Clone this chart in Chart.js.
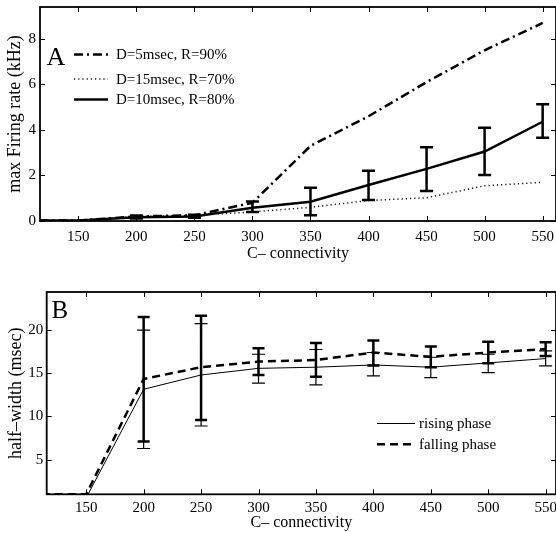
<!DOCTYPE html>
<html>
<head>
<meta charset="utf-8">
<script src="https://cdn.jsdelivr.net/npm/chart.js@4"></script>
<style>
  html, body { margin: 0; padding: 0; background: #fff; }
  canvas { position: absolute; left: 0; }
  #chartA { top: 0; }
  #chartB { top: 268px; }
</style>
</head>
<body>
<canvas id="chartA" width="556" height="265"></canvas>
<canvas id="chartB" width="556" height="265"></canvas>
<script>
const connectivity = [100, 150, 200, 250, 300, 350, 400, 450, 500, 550];
const xTicks = [150, 200, 250, 300, 350, 400, 450, 500, 550];

// panel A: max firing rate (kHz)
const rateD5 = [0.02, 0.02, 0.2, 0.25, 0.8, 3.3, 4.6, 6.1, 7.5, 8.7];
const rateD15 = [0.02, 0.02, 0.2, 0.25, 0.4, 0.6, 0.9, 1.02, 1.55, 1.7];
const rateD10 = [0.02, 0.02, 0.17, 0.2, 0.58, 0.85, 1.58, 2.29, 3.05, 4.36];
const rateD10Low = [null, null, 0.11, 0.14, 0.4, 0.25, 0.92, 1.32, 2.02, 3.66];
const rateD10High = [null, null, 0.24, 0.27, 0.86, 1.46, 2.21, 3.24, 4.1, 5.13];
const yTicksA = [0, 2, 4, 6, 8];

// panel B: half-width (msec)
const rising = [1, 0.6, 13.15, 14.8, 15.57, 15.7, 15.96, 15.7, 16.2, 16.7];
const risingLow = [null, null, 6.3, 8.9, 13.85, 13.65, 14.7, 14.5, 15.07, 15.85];
const risingHigh = [null, null, 20.0, 20.75, 17.2, 17.75, 17.4, 16.85, 17.2, 17.6];
const falling = [1, 1, 14.34, 15.7, 16.35, 16.53, 17.4, 16.9, 17.4, 17.8];
const fallingLow = [null, null, 7.1, 9.6, 14.8, 14.6, 15.9, 15.7, 16.15, 17.0];
const fallingHigh = [null, null, 21.5, 21.65, 17.9, 18.5, 18.8, 18.1, 18.65, 18.6];
const yTicksB = [5, 10, 15, 20];

const serif = "'Liberation Serif', 'Times New Roman', serif";

function points(values) {
  return connectivity.map((x, i) => ({ x, y: values[i] }));
}

// box around the plot with inward tick marks on all four sides
const framePlugin = {
  id: 'frame',
  afterDraw(chart, args, opts) {
    const { ctx, chartArea: a, scales } = chart;
    ctx.save();
    ctx.strokeStyle = '#000';
    ctx.lineWidth = 1.8;
    ctx.strokeRect(a.left, a.top, a.right - a.left, a.bottom - a.top);
    ctx.lineWidth = 1;
    ctx.beginPath();
    opts.xTicks.forEach((v) => {
      const px = Math.round(scales.x.getPixelForValue(v)) + 0.5;
      ctx.moveTo(px, a.bottom); ctx.lineTo(px, a.bottom - 5);
      ctx.moveTo(px, a.top); ctx.lineTo(px, a.top + 5);
    });
    opts.yTicks.forEach((v) => {
      const py = Math.round(scales.y.getPixelForValue(v)) + 0.5;
      ctx.moveTo(a.left, py); ctx.lineTo(a.left + 5, py);
      ctx.moveTo(a.right, py); ctx.lineTo(a.right - 5, py);
    });
    ctx.stroke();
    ctx.restore();
  }
};

const errorBarPlugin = {
  id: 'errorBars',
  afterDatasetsDraw(chart, args, opts) {
    const { ctx, scales } = chart;
    ctx.save();
    ctx.strokeStyle = '#000';
    (opts.bars || []).forEach((bar) => {
      ctx.lineWidth = bar.width;
      ctx.beginPath();
      connectivity.forEach((x, i) => {
        if (bar.low[i] == null) return;
        const px = scales.x.getPixelForValue(x);
        const lo = scales.y.getPixelForValue(bar.low[i]);
        const hi = scales.y.getPixelForValue(bar.high[i]);
        ctx.moveTo(px, lo); ctx.lineTo(px, hi);
        ctx.moveTo(px - bar.cap, lo); ctx.lineTo(px + bar.cap, lo);
        ctx.moveTo(px - bar.cap, hi); ctx.lineTo(px + bar.cap, hi);
      });
      ctx.stroke();
    });
    ctx.restore();
  }
};

// legend drawn inside the axes, plus the panel letter
const insideLegend = {
  id: 'insideLegend',
  afterDraw(chart, args, opts) {
    const { ctx } = chart;
    ctx.save();
    ctx.fillStyle = '#000';
    ctx.font = opts.letterSize + 'px ' + serif;
    ctx.textBaseline = 'alphabetic';
    ctx.fillText(opts.letter, opts.letterX, opts.letterY);
    ctx.font = '15px ' + serif;
    ctx.textBaseline = 'middle';
    opts.rows.forEach((row) => {
      const ds = chart.data.datasets[row.index];
      ctx.strokeStyle = ds.borderColor;
      ctx.lineWidth = ds.borderWidth;
      ctx.setLineDash(ds.borderDash || []);
      ctx.beginPath();
      ctx.moveTo(opts.x0, row.y); ctx.lineTo(opts.x1, row.y);
      ctx.stroke();
      ctx.fillText(ds.label, opts.textX, row.y + 1);
    });
    ctx.restore();
  }
};

function noPadding(s) {
  s.paddingLeft = 0; s.paddingRight = 0; s.paddingTop = 0; s.paddingBottom = 0;
}

function xScale(min, max, pad, height, titlePad) {
  return {
    type: 'linear', min, max,
    border: { display: false },
    grid: { display: false, drawTicks: false },
    ticks: { padding: pad, color: '#000', font: { family: serif, size: 15 }, maxRotation: 0, autoSkip: false },
    afterBuildTicks: (s) => { s.ticks = xTicks.map((v) => ({ value: v })); },
    title: { display: true, text: 'C\u2013 connectivity', color: '#000', font: { family: serif, size: 16 }, padding: { top: 0, bottom: titlePad } },
    afterFit: (s) => { s.height = height; noPadding(s); }
  };
}

function yScale(min, max, ticks, label, pad, width, titlePad) {
  return {
    type: 'linear', min, max,
    border: { display: false },
    grid: { display: false, drawTicks: false },
    ticks: { padding: pad, color: '#000', font: { family: serif, size: 15 } },
    afterBuildTicks: (s) => { s.ticks = ticks.map((v) => ({ value: v })); },
    title: { display: true, text: label, color: '#000', font: { family: serif, size: 18 }, padding: { top: titlePad, bottom: 0 } },
    afterFit: (s) => { s.width = width; noPadding(s); }
  };
}

const lineDefaults = { pointRadius: 0, tension: 0, fill: false, borderColor: '#000' };

new Chart(document.getElementById('chartA'), {
  type: 'line',
  data: {
    datasets: [
      { ...lineDefaults, label: 'D=5msec, R=90%', data: points(rateD5), borderWidth: 2.5, borderDash: [9, 4, 2, 4] },
      { ...lineDefaults, label: 'D=15msec, R=70%', data: points(rateD15), borderWidth: 1.5, borderDash: [1.2, 3], borderColor: '#111' },
      { ...lineDefaults, label: 'D=10msec, R=80%', data: points(rateD10), borderWidth: 2.5 }
    ]
  },
  options: {
    responsive: false,
    animation: false,
    layout: { padding: { top: 7, left: 0, right: 0, bottom: 0 } },
    scales: {
      x: xScale(117, 561.5, 7, 44, 1.4),
      y: yScale(0, 9.4, yTicksA, 'max Firing rate (kHz)', 4, 40, 4.5)
    },
    plugins: {
      legend: { display: false },
      tooltip: { enabled: false },
      frame: { xTicks, yTicks: yTicksA },
      errorBars: { bars: [{ low: rateD10Low, high: rateD10High, width: 2.5, cap: 6.5 }] },
      insideLegend: {
        letter: 'A', letterSize: 26, letterX: 46.5, letterY: 65,
        x0: 74, x1: 108, textX: 116,
        rows: [{ index: 0, y: 54.5 }, { index: 1, y: 79 }, { index: 2, y: 99.5 }]
      }
    }
  },
  plugins: [framePlugin, errorBarPlugin, insideLegend]
});

new Chart(document.getElementById('chartB'), {
  type: 'line',
  data: {
    datasets: [
      { ...lineDefaults, label: 'rising phase', data: points(rising), borderWidth: 1 },
      { ...lineDefaults, label: 'falling phase', data: points(falling), borderWidth: 2.5, borderDash: [8, 5] }
    ]
  },
  options: {
    responsive: false,
    animation: false,
    layout: { padding: { top: 24, left: 0, right: 0, bottom: 0 } },
    scales: {
      x: xScale(115.6, 559, 5, 38.7, 0.4),
      y: yScale(1, 24.4, yTicksB, 'half\u2013width (msec)', 3.5, 46.7, 5.7)
    },
    plugins: {
      legend: { display: false },
      tooltip: { enabled: false },
      frame: { xTicks, yTicks: yTicksB },
      errorBars: {
        bars: [
          { low: risingLow, high: risingHigh, width: 1.2, cap: 6.5 },
          { low: fallingLow, high: fallingHigh, width: 2.5, cap: 6 }
        ]
      },
      insideLegend: {
        letter: 'B', letterSize: 25, letterX: 51.5, letterY: 50.3,
        x0: 377, x1: 415, textX: 419,
        rows: [{ index: 0, y: 155.5 }, { index: 1, y: 176.3 }]
      }
    }
  },
  plugins: [framePlugin, errorBarPlugin, insideLegend]
});
</script>
</body>
</html>
